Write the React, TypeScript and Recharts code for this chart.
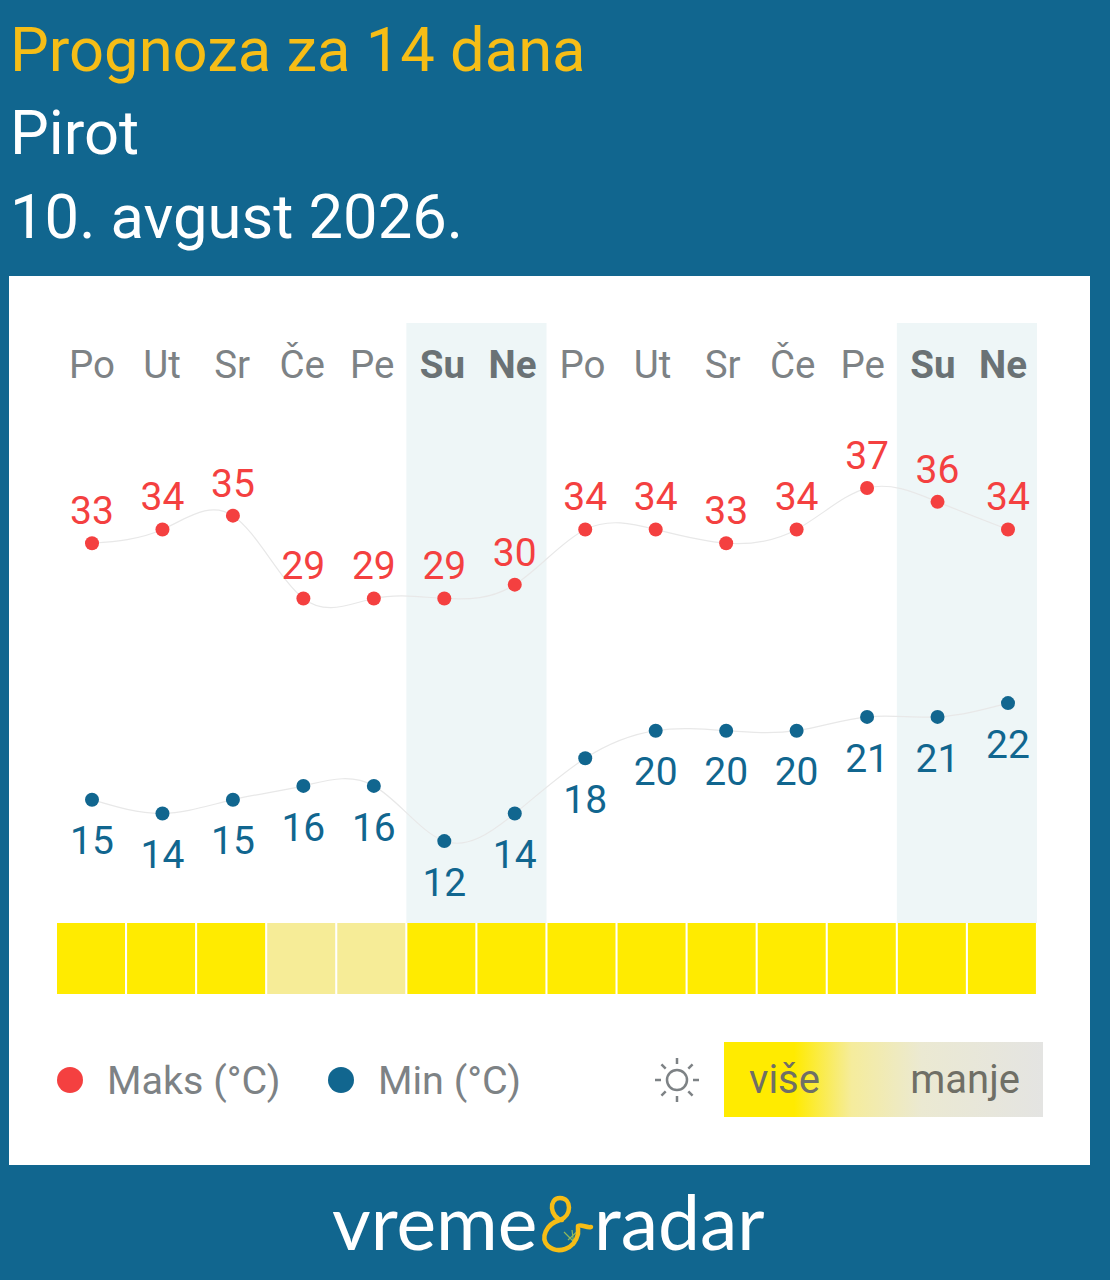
import { ComposedChart, Line, Bar, Cell, XAxis, YAxis, ReferenceArea, LabelList, Legend } from "recharts";

const days = ["Po", "Ut", "Sr", "Če", "Pe", "Su", "Ne", "Po", "Ut", "Sr", "Če", "Pe", "Su", "Ne"];
const maxTemps = [33, 34, 35, 29, 29, 29, 30, 34, 34, 33, 34, 37, 36, 34];
const minTemps = [15, 14, 15, 16, 16, 12, 14, 18, 20, 20, 20, 21, 21, 22];
// 1 = more sun, 0 = less
const sunLevels = [1, 1, 1, 0, 0, 1, 1, 1, 1, 1, 1, 1, 1, 1];
const weekends = [[5, 6], [12, 13]];

const chartData = days.map((day, i) => ({
  key: i,
  day,
  max: maxTemps[i],
  min: minTemps[i],
  strip: 1,
}));

const BLUE = "#11668f";
const RED = "#f44040";
const font = "Roboto, sans-serif";

function DayTick({ x, y, index }: any) {
  const weekend = days[index] === "Su" || days[index] === "Ne";
  return (
    <text x={x + 1} y={y} dy={63} textAnchor="middle" fontFamily={font} fontSize={38.5} fontWeight={weekend ? 700 : 400} fill={weekend ? "#6a7275" : "#7d8285"}>
      {days[index]}
    </text>
  );
}

function LegendItems({ payload }: any) {
  const items = (payload || []).filter((p: any) => p.type !== "rect");
  const lefts = [57, 328];
  return (
    <div style={{ position: "relative", width: 600, height: 60 }}>
      {items.map((p: any, i: number) => (
        <div key={p.value} style={{ position: "absolute", left: lefts[i], top: 0, whiteSpace: "nowrap", display: "flex", alignItems: "center", height: 60 }}>
          <span style={{ width: 26, height: 26, borderRadius: 13, background: p.payload.dot.fill, display: "inline-block", marginRight: 24 }} />
          <span style={{ fontFamily: font, fontSize: 39.5, color: "#7d8285" }}>{p.value}</span>
        </div>
      ))}
    </div>
  );
}

function SunIcon() {
  const rays = [0, 45, 90, 135, 180, 225, 270, 315];
  return (
    <svg width={46} height={46} style={{ position: "absolute", left: 654, top: 1057 }}>
      <circle cx={23} cy={23} r={10} fill="none" stroke="#7d8285" strokeWidth={2.5} />
      {rays.map((r) => (
        <line key={r} x1={23} y1={7} x2={23} y2={1} stroke="#7d8285" strokeWidth={2.5} transform={`rotate(${r} 23 23)`} />
      ))}
    </svg>
  );
}

function Heading({ top, color, children }: any) {
  return (
    <div style={{ position: "absolute", left: 10, top, fontFamily: font, fontSize: 61.5, lineHeight: "70px", color, whiteSpace: "nowrap" }}>
      {children}
    </div>
  );
}

export default function App() {
  return (
    <div style={{ position: "absolute", left: 0, top: 0, width: 1110, height: 1280, background: BLUE, overflow: "hidden" }}>
      <Heading top={15} color="#f6bd16">Prognoza za 14 dana</Heading>
      <Heading top={98} color="#ffffff">Pirot</Heading>
      <Heading top={182} color="#ffffff">10. avgust 2026.</Heading>

      <div style={{ position: "absolute", left: 9, top: 276, width: 1081, height: 889, background: "#fff" }} />

      <div style={{ position: "absolute", left: 0, top: 0 }}>
        <ComposedChart
          width={1110}
          height={1140}
          data={chartData}
          barCategoryGap={1}
          margin={{ top: 322, right: 73, bottom: 86, left: 56 }}
        >
          <XAxis dataKey="key" orientation="top" xAxisId={0} height={1} axisLine={false} tickLine={false} tick={<DayTick />} interval={0} />
          <XAxis dataKey="key" xAxisId="points" hide scale="point" padding={{ left: 36, right: 29 }} />
          <YAxis yAxisId="max" hide domain={[0.34, 48.96]} />
          <YAxis yAxisId="min" hide domain={[0.92, 49.54]} />
          <YAxis yAxisId="sun" hide domain={[0, 9.45]} />
          {weekends.map(([a, b]) => (
            <ReferenceArea key={a} yAxisId="sun" x1={a} x2={b} y1={1} y2={9.45} fill="#eef6f7" fillOpacity={1} stroke="none" />
          ))}
          <Bar yAxisId="sun" dataKey="strip" legendType="rect" isAnimationActive={false}>
            {sunLevels.map((level, i) => (
              <Cell key={i} fill={level ? "#ffeb00" : "#f6ec97"} />
            ))}
          </Bar>
          <Line xAxisId="points" yAxisId="max" name="Maks (°C)" dataKey="max" type="natural" stroke="#e8e8e8" strokeWidth={1.2} dot={{ r: 7, fill: RED, stroke: "none" }} isAnimationActive={false}>
            <LabelList dataKey="max" position="top" offset={19} fill={RED} fontFamily={font} fontSize={39} />
          </Line>
          <Line xAxisId="points" yAxisId="min" name="Min (°C)" dataKey="min" type="natural" stroke="#e8e8e8" strokeWidth={1.2} dot={{ r: 7, fill: BLUE, stroke: "none" }} isAnimationActive={false}>
            <LabelList dataKey="min" position="bottom" offset={27} fill={BLUE} fontFamily={font} fontSize={39} />
          </Line>
          <Legend content={<LegendItems />} layout="horizontal" wrapperStyle={{ position: "absolute", left: 0, top: 1050, width: 600 }} />
        </ComposedChart>
      </div>

      <SunIcon />
      <div style={{ position: "absolute", left: 724, top: 1042, width: 319, height: 75, background: "linear-gradient(90deg, #ffeb00 0%, #ffeb00 22%, #f5ec9c 40%, #ebe9d2 62%, #e4e4e2 100%)" }}>
        <span style={{ position: "absolute", left: 25, top: 14, fontFamily: font, fontSize: 40, color: "#6f6f66" }}>više</span>
        <span style={{ position: "absolute", right: 23, top: 14, fontFamily: font, fontSize: 40, color: "#6f6f66" }}>manje</span>
      </div>

      <div style={{ position: "absolute", left: 332, top: 1178, fontFamily: "Lato, sans-serif", fontSize: 75, lineHeight: "86px", color: "#fff", whiteSpace: "nowrap" }}>vreme</div>
      <svg width={60} height={70} style={{ position: "absolute", left: 538, top: 1192 }}>
        <path d="M30 48 L42 37 M26 40 L38 52 M34 38 L36 54" fill="none" stroke="#8fb85a" strokeWidth={1.2} />
        <path d="M24 28 C12 26 10 6 22 6 C34 6 34 24 22 28 C8 32 2 46 10 54 C20 62 36 58 40 42 L40 34 C44 32 48 36 53 35" fill="none" stroke="#f6bd16" strokeWidth={4.5} strokeLinecap="round" strokeLinejoin="round" />
      </svg>
      <div style={{ position: "absolute", left: 594, top: 1178, fontFamily: "Lato, sans-serif", fontSize: 75, lineHeight: "86px", color: "#fff", whiteSpace: "nowrap" }}>radar</div>
    </div>
  );
}
